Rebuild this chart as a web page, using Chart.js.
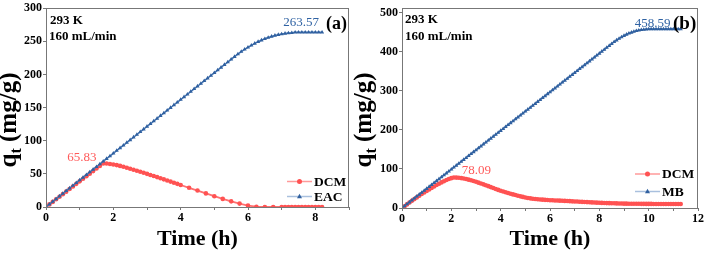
<!DOCTYPE html>
<html><head><meta charset="utf-8">
<script src="https://cdn.jsdelivr.net/npm/chart.js@4/dist/chart.umd.min.js"></script>
<style>
html,body{margin:0;padding:0;background:#fff;}
#wrap{position:relative;width:706px;height:256px;overflow:hidden;background:#fff;}
canvas{position:absolute;top:0;}
</style></head><body>
<div id="wrap"><canvas id="ca" width="353" height="256" style="left:0"></canvas><canvas id="cb" width="353" height="256" style="left:353px"></canvas></div>
<script>
// ---------- data (a) ----------
const timeA = [0,0.1,0.2,0.3,0.4,0.5,0.6,0.7,0.8,0.9,1,1.1,1.2,1.3,1.4,1.5,1.6,1.7,1.8,1.9,2,2.1,2.2,2.3,2.4,2.5,2.6,2.7,2.8,2.9,3,3.1,3.2,3.3,3.4,3.5,3.6,3.7,3.8,3.9,4,4.1,4.2,4.3,4.4,4.5,4.6,4.7,4.8,4.9,5,5.1,5.2,5.3,5.4,5.5,5.6,5.7,5.8,5.9,6,6.1,6.2,6.3,6.4,6.5,6.6,6.7,6.8,6.9,7,7.1,7.2,7.3,7.4,7.5,7.6,7.7,7.8,7.9,8,8.1,8.2];
const eacA = [0,4.0,8.1,12.1,16.2,20.2,24.3,28.3,32.4,36.4,
 40.5,44.5,48.6,52.6,56.7,60.7,64.8,68.8,72.9,76.9,
 81.0,85.0,89.1,93.1,97.2,101.2,105.3,109.3,113.4,117.4,
 121.5,125.5,129.6,133.6,137.7,141.7,145.8,149.8,153.9,157.9,
 162.0,166.0,170.1,174.1,178.2,182.2,186.3,190.3,194.4,198.4,
 202.5,206.6,210.6,214.7,218.7,222.8,226.8,230.7,234.4,237.8,
 241.0,244.0,246.8,249.4,251.7,253.8,255.7,257.4,258.8,260.0,
 261.0,261.8,262.4,262.9,263.57,263.57,263.57,263.57,263.57,263.57,
 263.57,263.57,263.57];
const timeDcmA = [0,0.1,0.2,0.3,0.4,0.5,0.6,0.7,0.8,0.9,1,1.1,1.2,1.3,1.4,1.5,1.6,1.7,1.8,1.9,2,2.1,2.2,2.3,2.4,2.5,2.6,2.7,2.8,2.9,3,3.1,3.2,3.3,3.4,3.5,3.6,3.7,3.8,3.9,4,
 4.25,4.5,4.75,5,5.25,5.5,5.75,6,6.25,6.5,6.75,7,
 7.1,7.2,7.3,7.4,7.5,7.6,7.7,7.8,7.9,8,8.1,8.2];
const dcmA = [0,3.9,7.7,11.6,15.5,19.4,23.2,27.1,31.0,34.9,
 38.7,42.6,46.5,50.3,54.2,58.1,62.0,65.83,65.6,65.0,
 64.2,63.2,62.0,60.7,59.3,57.8,56.3,54.8,53.2,51.6,
 50.0,48.4,46.8,45.1,43.4,41.7,40.0,38.3,36.6,34.9,33.2,
 29.0,24.8,20.5,16.3,12.2,8.5,5.1,2.2,0.4,0,0,0,
 0,0,0,0,0,0,0,0,0,0,0,0];
const seriesA = ['DCM','EAC'];
const xTickPosA = [0,1,2,3,4,5,6,7,8,9];
const xLabelsA = [0,2,4,6,8];
const yTicksA = [0,50,100,150,200,250,300];

// ---------- data (b) ----------
const timeB = [0,0.1,0.2,0.3,0.4,0.5,0.6,0.7,0.8,0.9,1,1.1,1.2,1.3,1.4,1.5,1.6,1.7,1.8,1.9,2,2.1,2.2,2.3,2.4,2.5,2.6,2.7,2.8,2.9,3,3.1,3.2,3.3,3.4,3.5,3.6,3.7,3.8,3.9,4,4.1,4.2,4.3,4.4,4.5,4.6,4.7,4.8,4.9,5,5.1,5.2,5.3,5.4,5.5,5.6,5.7,5.8,5.9,6,6.1,6.2,6.3,6.4,6.5,6.6,6.7,6.8,6.9,7,7.1,7.2,7.3,7.4,7.5,7.6,7.7,7.8,7.9,8,8.1,8.2,8.3,8.4,8.5,8.6,8.7,8.8,8.9,9,9.1,9.2,9.3,9.4,9.5,9.6,9.7,9.8,9.9,10,10.1,10.2,10.3,10.4,10.5,10.6,10.7,10.8,10.9,11,11.1,11.2,11.3];
const mbB = [0,5.0,9.9,14.9,19.8,24.8,29.7,34.7,39.6,44.6,
 49.5,54.5,59.4,64.4,69.3,74.3,79.2,84.2,89.1,94.1,
 99.0,104.0,108.9,113.9,118.8,123.8,128.7,133.7,138.6,143.6,
 148.5,153.5,158.4,163.4,168.3,173.3,178.2,183.2,188.1,193.1,
 198.0,203.0,207.9,212.9,217.8,222.8,227.7,232.7,237.6,242.6,
 247.5,252.5,257.4,262.4,267.3,272.3,277.2,282.2,287.1,292.1,
 297.0,302.0,306.9,311.9,316.8,321.8,326.7,331.7,336.6,341.6,
 346.5,351.5,356.4,361.4,366.3,371.3,376.2,381.2,386.1,391.1,
 396.0,401.0,405.9,410.9,415.8,420.8,425.6,430.0,434.2,438.0,
 441.4,444.6,447.4,449.8,452.0,453.8,455.3,456.4,457.3,457.8,
 458.59,458.59,458.59,458.59,458.59,458.59,458.59,458.59,458.59,458.59,
 458.59,458.59,458.59,458.59];
const dcmB = [0,4.6,9.2,13.8,18.3,22.8,27.2,31.5,35.7,39.8,
 43.8,47.7,51.5,55.2,58.8,62.3,65.6,68.7,71.6,74.3,
 76.5,78.09,77.9,77.4,76.6,75.5,74.2,72.7,71.0,69.1,
 67.1,65.0,62.8,60.6,58.3,56.0,53.6,51.2,48.8,46.4,
 44.1,42.1,40.2,38.4,36.6,34.9,33.2,31.5,29.9,28.4,
 27.0,25.8,24.7,23.8,23.0,22.4,21.9,21.4,20.9,20.4,
 20.0,19.7,19.4,19.1,18.8,18.5,18.2,17.8,17.5,17.1,
 16.8,16.5,16.1,15.8,15.4,15.1,14.7,14.4,14.0,13.7,
 13.4,13.1,12.9,12.6,12.4,12.2,12.0,11.8,11.6,11.4,
 11.2,11.1,11.0,10.9,10.8,10.7,10.7,10.6,10.6,10.5,
 10.5,10.5,10.4,10.4,10.4,10.3,10.3,10.3,10.2,10.2,
 10.2,10.1,10.1,10.1];
const seriesB = ['DCM','MB'];
const xTickPosB = [0,1,2,3,4,5,6,7,8,9,10,11,12];
const xLabelsB = [0,2,4,6,8,10,12];
const yTicksB = [0,100,200,300,400,500];

// ---------- styling ----------
const SERIF = '"Liberation Serif","Times New Roman",serif';
const RED = '#ff5252', RED_LINE = '#ff7070', RED_LEG = '#ff9a9a';
const BLUE = '#30609f', BLUE_LINE = '#4677b6', BLUE_LEG = '#a9c0de';

function pts(xs, ys){ return xs.map((x,i)=>({x:x, y:ys[i]})); }

function drawMarker(c, style, x, y, r, color){
  c.fillStyle = color;
  c.beginPath();
  if (style === 'circle') { c.arc(x, y, r, 0, Math.PI*2); }
  else { c.moveTo(x, y - r*1.15); c.lineTo(x + r, y + r*0.65); c.lineTo(x - r, y + r*0.65); c.closePath(); }
  c.fill();
}

function decor(cfg){
  return {
    id: 'decor',
    afterDraw(chart){
      const c = chart.ctx, a = chart.chartArea, xs = chart.scales.x, ys = chart.scales.y;
      c.save();
      // frame
      c.strokeStyle = '#777'; c.lineWidth = 1;
      c.strokeRect(Math.round(a.left)+0.5, Math.round(a.top)+0.5, Math.round(a.right-a.left)-1, Math.round(a.bottom-a.top));
      // y title with subscript
      c.save();
      c.translate(cfg.yTitle.x, cfg.yTitle.y);
      c.rotate(-Math.PI/2);
      c.fillStyle = '#000'; c.textBaseline = 'alphabetic'; c.textAlign = 'left';
      const f1 = 'bold 25px ' + SERIF, f2 = 'bold 16px ' + SERIF;
      c.font = f1; const wq = c.measureText('q').width; const wr = c.measureText(' (mg/g)').width;
      c.font = f2; const wt = c.measureText('t').width;
      let x = -(wq + wt + wr)/2;
      c.font = f1; c.fillText('q', x, 0); x += wq;
      c.font = f2; c.fillText('t', x, 5); x += wt;
      c.font = f1; c.fillText(' (mg/g)', x, 0);
      c.restore();
      // info texts
      c.fillStyle = '#000'; c.textAlign = 'left'; c.textBaseline = 'alphabetic';
      c.font = 'bold 13px ' + SERIF;
      cfg.info.forEach(t => c.fillText(t.text, a.left + t.dx, a.top + t.dy));
      // panel tag
      c.font = 'bold ' + cfg.tag.size + 'px ' + SERIF;
      c.fillText(cfg.tag.text, a.right + cfg.tag.dx, a.top + cfg.tag.dy);
      // value annotations
      c.font = '13px ' + SERIF;
      cfg.ann.forEach(t => {
        c.fillStyle = t.color;
        c.fillText(t.text, xs.getPixelForValue(t.x) + t.dx, ys.getPixelForValue(t.y) + t.dy);
      });
      // legend
      c.font = 'bold 13.5px ' + SERIF; c.textBaseline = 'middle';
      cfg.legend.forEach(l => {
        const y = a.bottom - l.up, x0 = a.right - l.left;
        c.strokeStyle = l.line; c.lineWidth = 1.5;
        c.beginPath(); c.moveTo(x0, y); c.lineTo(x0 + 25, y); c.stroke();
        drawMarker(c, l.style, x0 + 12.5, y, l.r, l.color);
        c.fillStyle = '#000';
        c.fillText(l.text, x0 + 27, y + 1);
      });
      c.restore();
    }
  };
}

function makeChart(id, opt){
  return new Chart(document.getElementById(id), {
    type: 'line',
    data: { datasets: [
      { label: opt.names[0], data: pts(opt.x0, opt.y0), borderColor: RED_LINE, borderWidth: 1.8,
        pointStyle: 'circle', pointRadius: 2.3, pointBackgroundColor: RED, pointBorderWidth: 0, order: 2, tension: 0 },
      { label: opt.names[1], data: pts(opt.x1, opt.y1), borderColor: BLUE_LINE, borderWidth: 1.5,
        pointStyle: 'triangle', pointRadius: 2.4, pointBackgroundColor: BLUE, pointBorderWidth: 0, order: 1, tension: 0 }
    ]},
    options: {
      responsive: false, animation: false, devicePixelRatio: 1, events: [],
      layout: { padding: { top: 5, right: opt.padRight, left: 0, bottom: 0 } },
      plugins: { legend: { display: false }, tooltip: { enabled: false } },
      scales: {
        x: {
          type: 'linear', min: 0, max: opt.xMax,
          afterBuildTicks: s => { s.ticks = opt.xTicks.map(v => ({ value: v })); },
          afterFit: s => { s.height = opt.xHeight; },
          ticks: { autoSkip: false, maxRotation: 0, padding: 1, color: '#000',
            font: { family: SERIF, size: 12, weight: 'bold' },
            callback: v => opt.xLabels.includes(v) ? String(v) : '' },
          grid: { drawOnChartArea: false, drawTicks: true, tickLength: 3, color: '#777' },
          border: { display: false },
          title: { display: true, text: 'Time (h)', color: '#000', padding: { top: 0, bottom: 3 },
            font: { family: SERIF, size: 22, weight: 'bold', lineHeight: 1.2 } }
        },
        y: {
          type: 'linear', min: 0, max: opt.yMax,
          afterBuildTicks: s => { s.ticks = opt.yTicks.map(v => ({ value: v })); },
          afterFit: s => { s.width = opt.yWidth; },
          ticks: { padding: 1, color: '#000', font: { family: SERIF, size: 12, weight: 'bold' } },
          grid: { drawOnChartArea: false, drawTicks: true, tickLength: 3, color: '#777' },
          border: { display: false }
        }
      }
    },
    plugins: [decor(opt.decor)]
  });
}

makeChart('ca', {
  names: seriesA, x0: timeDcmA, y0: dcmA, x1: timeA, y1: eacA,
  xMax: 9, yMax: 300, xTicks: xTickPosA, xLabels: xLabelsA, yTicks: yTicksA,
  padRight: 4, xHeight: 49, yWidth: 46,
  decor: {
    yTitle: { x: 16, y: 120 },
    info: [{ text: '293 K', dx: 4, dy: 16 }, { text: '160 mL/min', dx: 3, dy: 32 }],
    tag: { text: '(a)', dx: -23, dy: 21, size: 18 },
    ann: [{ text: '65.83', x: 1.7, y: 65.83, dx: -36, dy: -2.5, color: '#ff5a5a' },
          { text: '263.57', x: 7.4, y: 263.57, dx: -12, dy: -6, color: '#2f62a3' }],
    legend: [{ text: 'DCM', style: 'circle', r: 2.5, color: RED, line: RED_LEG, up: 25.5, left: 62 },
             { text: 'EAC', style: 'triangle', r: 2.5, color: BLUE, line: BLUE_LEG, up: 10.5, left: 62 }]
  }
});

makeChart('cb', {
  names: seriesB, x0: timeB, y0: dcmB, x1: timeB, y1: mbB,
  xMax: 12, yMax: 512, xTicks: xTickPosB, xLabels: xLabelsB, yTicks: yTicksB,
  padRight: 8, xHeight: 48, yWidth: 49,
  decor: {
    yTitle: { x: 18, y: 120 },
    info: [{ text: '293 K', dx: 3, dy: 15 }, { text: '160 mL/min', dx: 3, dy: 32 }],
    tag: { text: '(b)', dx: -25, dy: 21, size: 19 },
    ann: [{ text: '78.09', x: 2.1, y: 78.09, dx: 8, dy: -3.5, color: '#ff5a5a' },
          { text: '458.59', x: 10, y: 458.59, dx: -14, dy: -2, color: '#2f62a3' }],
    legend: [{ text: 'DCM', style: 'circle', r: 2.5, color: RED, line: RED_LEG, up: 34, left: 63 },
             { text: 'MB', style: 'triangle', r: 2.5, color: BLUE, line: BLUE_LEG, up: 16.5, left: 63 }]
  }
});
</script>
</body></html>
